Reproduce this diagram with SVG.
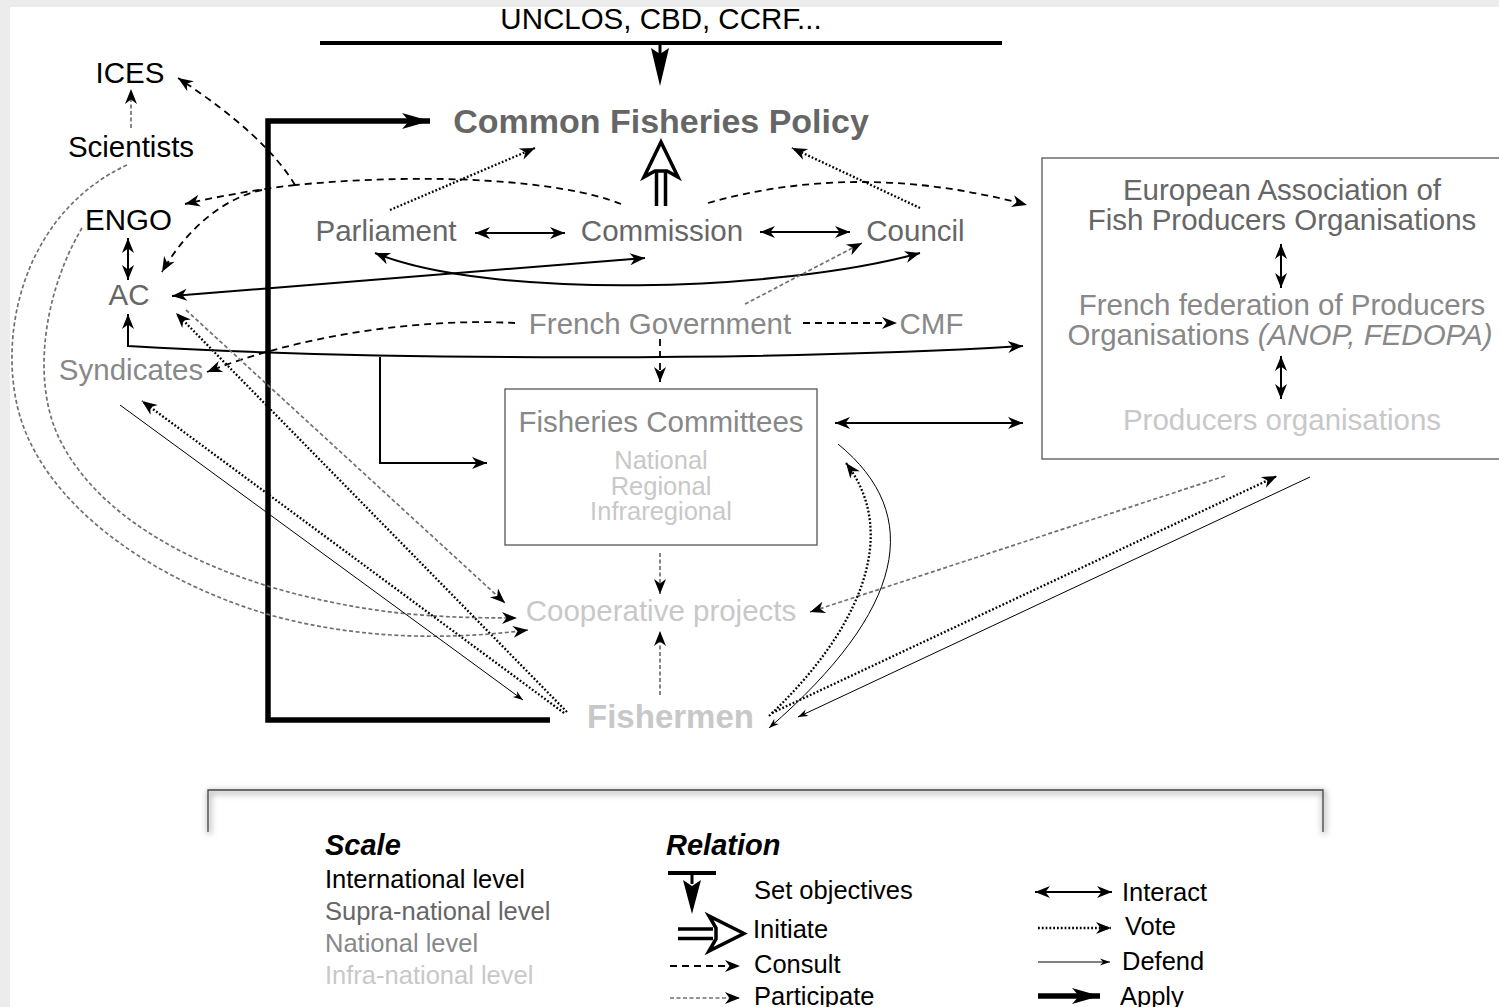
<svg xmlns="http://www.w3.org/2000/svg" width="1499" height="1007" viewBox="0 0 1499 1007">
<style>
text{font-family:"Liberation Sans",Arial,sans-serif;font-size:29.5px;text-anchor:middle}
.lg{font-size:25.5px;text-anchor:start}
.sm{font-size:25.5px}
.b{font-weight:bold;font-size:33px}
.cfp{font-size:34px}
.h{font-weight:bold;font-style:italic;font-size:29px;text-anchor:start}
.intl{fill:#000}.supra{fill:#666}.nat{fill:#888}.infra{fill:#c8c8c8}
.consult{fill:none;stroke:#000;stroke-width:1.8;stroke-dasharray:7 5}
.part{fill:none;stroke:#707070;stroke-width:1.7;stroke-dasharray:4 2.5}
.vote{fill:none;stroke:#000;stroke-width:2.3;stroke-dasharray:1.8 2}
.inter{fill:none;stroke:#000;stroke-width:2}
.defend{fill:none;stroke:#000;stroke-width:1}
.apply{fill:none;stroke:#000;stroke-width:5.5;stroke-linejoin:miter}
.init{fill:#fff;stroke:#000;stroke-width:3.5;stroke-linejoin:miter}
.box{fill:none;stroke:#555;stroke-width:1.3}
</style>
<defs>
<marker id="ah" markerUnits="userSpaceOnUse" markerWidth="30" markerHeight="30" refX="15" refY="7" orient="auto-start-reverse" overflow="visible"><path d="M0,1 L15,7 L0,13 L4.5,7 Z" fill="#000"/></marker>
<marker id="ahs" markerUnits="userSpaceOnUse" markerWidth="20" markerHeight="20" refX="10" refY="3.5" orient="auto-start-reverse" overflow="visible"><path d="M0,0 L10,3.5 L0,7 L3,3.5 Z" fill="#000"/></marker>
<marker id="aha" markerUnits="userSpaceOnUse" markerWidth="40" markerHeight="40" refX="15" refY="8" orient="auto" overflow="visible"><path d="M-13,0 L15,8 L-13,16 L-6,8 Z" fill="#000"/></marker>
<filter id="sh" x="-5%" y="-50%" width="110%" height="200%"><feGaussianBlur stdDeviation="3"/></filter>
</defs>
<rect x="0" y="0" width="1499" height="1007" fill="#ececec"/>
<rect x="10" y="7" width="1489" height="1000" fill="#fff"/>

<g id="connectors">
<!-- set objectives -->
<path d="M320,43 H1002" stroke="#000" stroke-width="4" fill="none"/>
<path d="M660,43 V56" stroke="#000" stroke-width="3"/>
<path d="M651,48 L660,54 L669,48 L660,86 Z" fill="#000"/>
<!-- apply -->
<path class="apply" d="M550,720 H268 V121 H430" marker-end="url(#aha)"/>
<!-- initiate -->
<path d="M656.5,206 V170 M665.5,206 V170" stroke="#000" stroke-width="3.5" fill="none"/>
<path class="init" d="M661,142 L678,177 L667,171 L655,171 L644,177 Z"/>
<!-- votes to CFP -->
<path class="vote" d="M390,210 L535,148" marker-end="url(#ah)"/>
<path class="vote" d="M920,208 L792,148" marker-end="url(#ah)"/>
<!-- consult from commission -->
<path class="consult" d="M621,204 C560,180 430,172 295,185"/>
<path class="consult" d="M295,185 Q265,135 178,78" marker-end="url(#ah)"/>
<path class="consult" d="M295,185 C260,189 220,196 185,204" marker-end="url(#ah)"/>
<path class="consult" d="M262,190 C215,200 180,240 162,272" marker-end="url(#ah)"/>
<path class="consult" d="M708,203 Q860,160 1027,205" marker-end="url(#ah)"/>
<!-- interact -->
<path class="inter" d="M475,233 H565" marker-start="url(#ah)" marker-end="url(#ah)"/>
<path class="inter" d="M760,232 H850" marker-start="url(#ah)" marker-end="url(#ah)"/>
<path class="inter" d="M375,253 C490,300 780,292 920,253" marker-start="url(#ah)" marker-end="url(#ah)"/>
<path class="inter" d="M172,296 L645,258" marker-start="url(#ah)" marker-end="url(#ah)"/>
<path class="inter" d="M128,238 V280" marker-start="url(#ah)" marker-end="url(#ah)"/>
<path class="inter" d="M128,314 V346 C400,362 800,360 1023,346" marker-start="url(#ah)" marker-end="url(#ah)"/>
<path class="inter" d="M380,357 V463 H487" marker-end="url(#ah)"/>
<path class="inter" d="M835,423 H1023" marker-start="url(#ah)" marker-end="url(#ah)"/>
<path class="inter" d="M1281,244 V288" marker-start="url(#ah)" marker-end="url(#ah)"/>
<path class="inter" d="M1281,356 V399" marker-start="url(#ah)" marker-end="url(#ah)"/>
<!-- French government -->
<path class="part" d="M745,304 L862,243" marker-end="url(#ah)"/>
<path class="consult" d="M803,323 H897" marker-end="url(#ah)"/>
<path class="consult" d="M515,323 C420,318 300,335 207,372" marker-end="url(#ah)"/>
<path class="consult" d="M660,339 V382" marker-end="url(#ah)"/>
<!-- participate -->
<path class="part" d="M131,128 V89" marker-end="url(#ah)"/>
<path class="part" d="M127,165 C30,210 0,320 16,400 C35,500 150,580 270,615 C360,640 450,640 528,630" marker-end="url(#ah)"/>
<path class="part" d="M82,228 C45,290 30,380 60,440 C100,520 200,570 300,595 C380,615 440,618 517,618" marker-end="url(#ah)"/>
<path class="part" d="M186,310 L505,603" marker-end="url(#ah)"/>
<path class="part" d="M660,553 V594" marker-end="url(#ah)"/>
<path class="part" d="M660,695 V631" marker-end="url(#ah)"/>
<path class="part" d="M1225,476 L810,612" marker-end="url(#ah)"/>
<!-- fishermen votes / defend -->
<path class="vote" d="M567,712 L176,313" marker-end="url(#ah)"/>
<path class="vote" d="M564,713 L142,401" marker-end="url(#ah)"/>
<path class="defend" d="M120,405 L523,700" marker-end="url(#ahs)"/>
<path class="vote" d="M769,716 C850,640 905,540 846,463" marker-end="url(#ah)"/>
<path class="defend" d="M838,444 C925,515 905,610 769,728" marker-end="url(#ahs)"/>
<path class="vote" d="M772,713 L1277,476" marker-end="url(#ah)"/>
<path class="defend" d="M1310,477 L798,717" marker-end="url(#ahs)"/>
</g>

<g id="n-unclos"><text class="intl" x="661" y="29">UNCLOS, CBD, CCRF...</text></g>
<g id="n-cfp"><text class="supra b cfp" x="661" y="133">Common Fisheries Policy</text></g>
<g id="n-parliament"><text class="supra" x="386" y="241">Parliament</text></g>
<g id="n-commission"><text class="supra" x="662" y="241">Commission</text></g>
<g id="n-council"><text class="supra" x="915.5" y="241">Council</text></g>
<g id="n-frgov"><text class="nat" x="660" y="334">French Government</text></g>
<g id="n-cmf"><text class="nat" x="931.5" y="334">CMF</text></g>
<g id="n-ices"><text class="intl" x="130" y="83">ICES</text></g>
<g id="n-scientists"><text class="intl" x="131" y="157">Scientists</text></g>
<g id="n-engo"><text class="intl" x="128.5" y="230">ENGO</text></g>
<g id="n-ac"><text class="supra" x="129" y="305">AC</text></g>
<g id="n-syndicates"><text class="nat" x="131" y="380">Syndicates</text></g>
<g id="n-fc">
<rect class="box" x="505" y="389" width="312" height="156"/>
<text class="nat" x="661" y="432">Fisheries Committees</text>
<text class="infra sm" x="661" y="469">National</text>
<text class="infra sm" x="661" y="495">Regional</text>
<text class="infra sm" x="661" y="520">Infraregional</text>
</g>
<g id="n-coop"><text class="infra" x="661" y="621">Cooperative projects</text></g>
<g id="n-fishermen"><text class="infra b" x="670.5" y="728">Fishermen</text></g>
<g id="n-po">
<rect class="box" x="1042" y="158" width="470" height="301"/>
<text class="supra" x="1282" y="200">European Association of</text>
<text class="supra" x="1282" y="230">Fish Producers Organisations</text>
<text class="nat" x="1282" y="315">French federation of Producers</text>
<text class="nat" x="1280" y="345">Organisations <tspan font-style="italic">(ANOP, FEDOPA)</tspan></text>
<text class="infra" x="1282" y="430">Producers organisations</text>
</g>

<g id="legend">
<path d="M208,832 V790 H1323 V832" fill="none" stroke="#999" stroke-width="3" filter="url(#sh)" transform="translate(1,2)"/>
<path d="M208,832 V790 H1323 V832" fill="none" stroke="#444" stroke-width="1.3"/>
<text class="h intl" x="325" y="855">Scale</text>
<text class="lg intl" x="325" y="888">International level</text>
<text class="lg supra" x="325" y="920">Supra-national level</text>
<text class="lg nat" x="325" y="952">National level</text>
<text class="lg infra" x="325" y="984">Infra-national level</text>
<text class="h intl" x="666" y="855">Relation</text>
<path d="M668,873 H716" stroke="#000" stroke-width="4"/>
<path d="M692,873 V884" stroke="#000" stroke-width="3"/>
<path d="M683,880 L692,886 L701,880 L692,914 Z" fill="#000"/>
<text class="lg intl" x="754" y="899">Set objectives</text>
<path d="M678,929 H713 M678,938.5 H713" stroke="#000" stroke-width="3.5" fill="none"/>
<path class="init" d="M744,933.5 L709,916 L716,928 L716,939 L709,951 Z"/>
<text class="lg intl" x="753" y="938">Initiate</text>
<path class="consult" d="M670,966 H740" marker-end="url(#ah)"/>
<text class="lg intl" x="754" y="973">Consult</text>
<path class="part" d="M670,998 H740" marker-end="url(#ah)"/>
<text class="lg intl" x="754" y="1005">Participate</text>
<path class="inter" d="M1035,892 H1112" marker-start="url(#ah)" marker-end="url(#ah)"/>
<text class="lg intl" x="1122" y="901">Interact</text>
<path class="vote" d="M1038,928 H1111" marker-end="url(#ah)"/>
<text class="lg intl" x="1125" y="935">Vote</text>
<path class="defend" d="M1038,962 H1110" marker-end="url(#ahs)"/>
<text class="lg intl" x="1122" y="970">Defend</text>
<path class="apply" d="M1038,996 H1100" marker-end="url(#aha)"/>
<text class="lg intl" x="1120" y="1005">Apply</text>
</g>
</svg>
